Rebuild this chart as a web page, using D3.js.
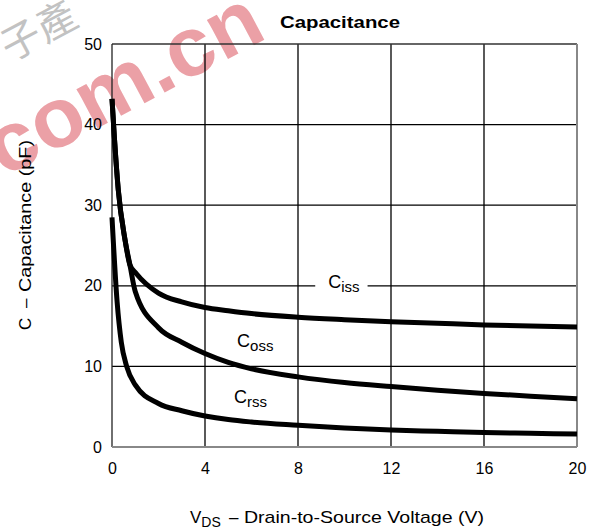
<!DOCTYPE html>
<html>
<head>
<meta charset="utf-8">
<script src="https://cdn.jsdelivr.net/npm/d3@7"></script>
<style>
  body { margin: 0; background: #fff; }
  svg { font-family: "Liberation Sans", Arial, sans-serif; }
</style>
</head>
<body>
<svg id="chart" width="607" height="532"></svg>
<script>
// values (V, pF)
const ciss = [[0, 43.2], [0.1, 38.5], [0.27, 31.9], [0.56, 25.7], [0.77, 22.6], [1.05, 21.5], [2, 19.1],
  [3, 18], [4, 17.3], [5, 16.9], [6, 16.55], [8, 16.1], [10, 15.8], [12, 15.55], [14, 15.35], [16, 15.15], [18, 15], [20, 14.9]];
const coss = [[0, 43.2], [0.1, 38.5], [0.27, 31.9], [0.56, 25.7], [0.77, 22.6], [1, 19.3], [2, 14.8],
  [3, 13], [4, 11.6], [5, 10.5], [6, 9.7], [8, 8.7], [10, 8.0], [12, 7.5], [14, 7.05], [16, 6.65], [18, 6.3], [20, 6.0]];
const crss = [[0, 28.5], [0.22, 18], [0.4, 13], [0.63, 10], [1, 7.7], [2, 5.4], [3, 4.5], [4, 3.85],
  [5, 3.4], [6, 3.1], [8, 2.7], [10, 2.35], [12, 2.1], [14, 1.95], [16, 1.8], [18, 1.7], [20, 1.6]];
const xTicks = [0, 4, 8, 12, 16, 20];
const yTicks = [0, 10, 20, 30, 40, 50];
const labels = [
  { name: "iss", x: 9.3, y: 19.7, gap: true },
  { name: "oss", x: 5.38, y: 12.4, gap: false },
  { name: "rss", x: 5.25, y: 5.45, gap: false }
];

const svg = d3.select("#chart");
const margin = { top: 44, right: 30, bottom: 85, left: 112 };
const width = 607, height = 532;

const x = d3.scaleLinear().domain([0, 20]).range([margin.left, width - margin.right]);
const y = d3.scaleLinear().domain([0, 50]).range([height - margin.bottom, margin.top]);

// watermark (sits under the chart)
svg.append("text").attr("transform", "translate(4,178) rotate(-28)")
  .attr("font-size", 84).attr("font-weight", "bold").attr("fill", "#eba0a6")
  .attr("textLength", 300).attr("lengthAdjust", "spacingAndGlyphs")
  .text("com.cn");
svg.append("text").attr("transform", "translate(10,62) rotate(-28)")
  .attr("font-size", 40).attr("fill", "#c2c2c2").attr("font-family", "Noto Sans CJK SC")
  .text("子產");

// grid
const grid = svg.append("g");
grid.selectAll(".vg").data(xTicks.slice(1, -1)).join("line")
  .attr("x1", d => x(d)).attr("x2", d => x(d))
  .attr("y1", y(50)).attr("y2", y(0))
  .attr("stroke", "#000").attr("stroke-width", 1.3);
grid.selectAll(".hg").data(yTicks.slice(1, -1)).join("line")
  .attr("x1", x(0)).attr("x2", x(20))
  .attr("y1", d => y(d)).attr("y2", d => y(d))
  .attr("stroke", "#000").attr("stroke-width", 1.3);

// frame
svg.append("line").attr("x1", x(0)).attr("x2", x(20)).attr("y1", y(50)).attr("y2", y(50))
  .attr("stroke", "#333").attr("stroke-width", 1.3);
svg.append("line").attr("x1", x(0)).attr("x2", x(0)).attr("y1", y(50)).attr("y2", y(0))
  .attr("stroke", "#222").attr("stroke-width", 1.3);
svg.append("line").attr("x1", x(20)).attr("x2", x(20)).attr("y1", y(50)).attr("y2", y(0))
  .attr("stroke", "#888").attr("stroke-width", 2);
svg.append("line").attr("x1", x(0)).attr("x2", x(20)).attr("y1", y(0)).attr("y2", y(0))
  .attr("stroke", "#888").attr("stroke-width", 2);

// axes tick labels
const xAxis = svg.append("g")
  .attr("transform", `translate(0,${y(0) + 16})`)
  .call(d3.axisBottom(x).tickValues(xTicks).tickSize(0).tickPadding(0));
xAxis.select(".domain").remove();
xAxis.selectAll("text").attr("font-size", 16).attr("fill", "#000")
  .attr("font-family", "Liberation Sans, Arial, sans-serif");

const yAxis = svg.append("g")
  .attr("transform", `translate(${x(0) - 10},0)`)
  .call(d3.axisLeft(y).tickValues(yTicks).tickSize(0).tickPadding(0));
yAxis.select(".domain").remove();
yAxis.selectAll("text").attr("font-size", 16).attr("fill", "#000")
  .attr("font-family", "Liberation Sans, Arial, sans-serif");

// curves
const line = d3.line().x(d => x(d[0])).y(d => y(d[1])).curve(d3.curveMonotoneX);
svg.append("g").selectAll("path").data([ciss, coss, crss]).join("path")
  .attr("d", line)
  .attr("fill", "none")
  .attr("stroke", "#000")
  .attr("stroke-width", 5)
  .attr("stroke-linejoin", "round");

// curve labels
const labelG = svg.append("g");
labels.forEach(l => {
  const g = labelG.append("g");
  const t = g.append("text")
    .attr("x", x(l.x)).attr("y", y(l.y))
    .attr("font-size", 18);
  t.append("tspan").text("C");
  t.append("tspan").attr("font-size", 15).attr("dy", 4).text(l.name);
  if (l.gap) {
    const bb = t.node().getBBox();
    g.insert("rect", "text")
      .attr("x", bb.x - 13).attr("y", y(20) - 3)
      .attr("width", bb.width + 21).attr("height", 6)
      .attr("fill", "#fff");
  }
});

// title
svg.append("text").attr("x", 280).attr("y", 28)
  .attr("font-size", 17).attr("font-weight", "bold")
  .attr("textLength", 120).attr("lengthAdjust", "spacingAndGlyphs")
  .text("Capacitance");

// x axis label
const xl = svg.append("text").attr("y", 523).attr("font-size", 17);
xl.append("tspan").attr("x", 190).text("V");
xl.append("tspan").attr("font-size", 14).attr("dy", 4).text("DS");
xl.append("tspan").attr("x", 229).attr("dy", -4).text("–");
xl.append("tspan").attr("x", 244)
  .attr("textLength", 240).attr("lengthAdjust", "spacingAndGlyphs")
  .text("Drain-to-Source Voltage (V)");

// y axis label
const yl = svg.append("text")
  .attr("transform", "translate(31,330) rotate(-90)")
  .attr("font-size", 17);
yl.append("tspan").attr("x", 0).text("C");
yl.append("tspan").attr("x", 22).text("–");
yl.append("tspan").attr("x", 38)
  .attr("textLength", 152).attr("lengthAdjust", "spacingAndGlyphs")
  .text("Capacitance (pF)");
</script>
</body>
</html>
